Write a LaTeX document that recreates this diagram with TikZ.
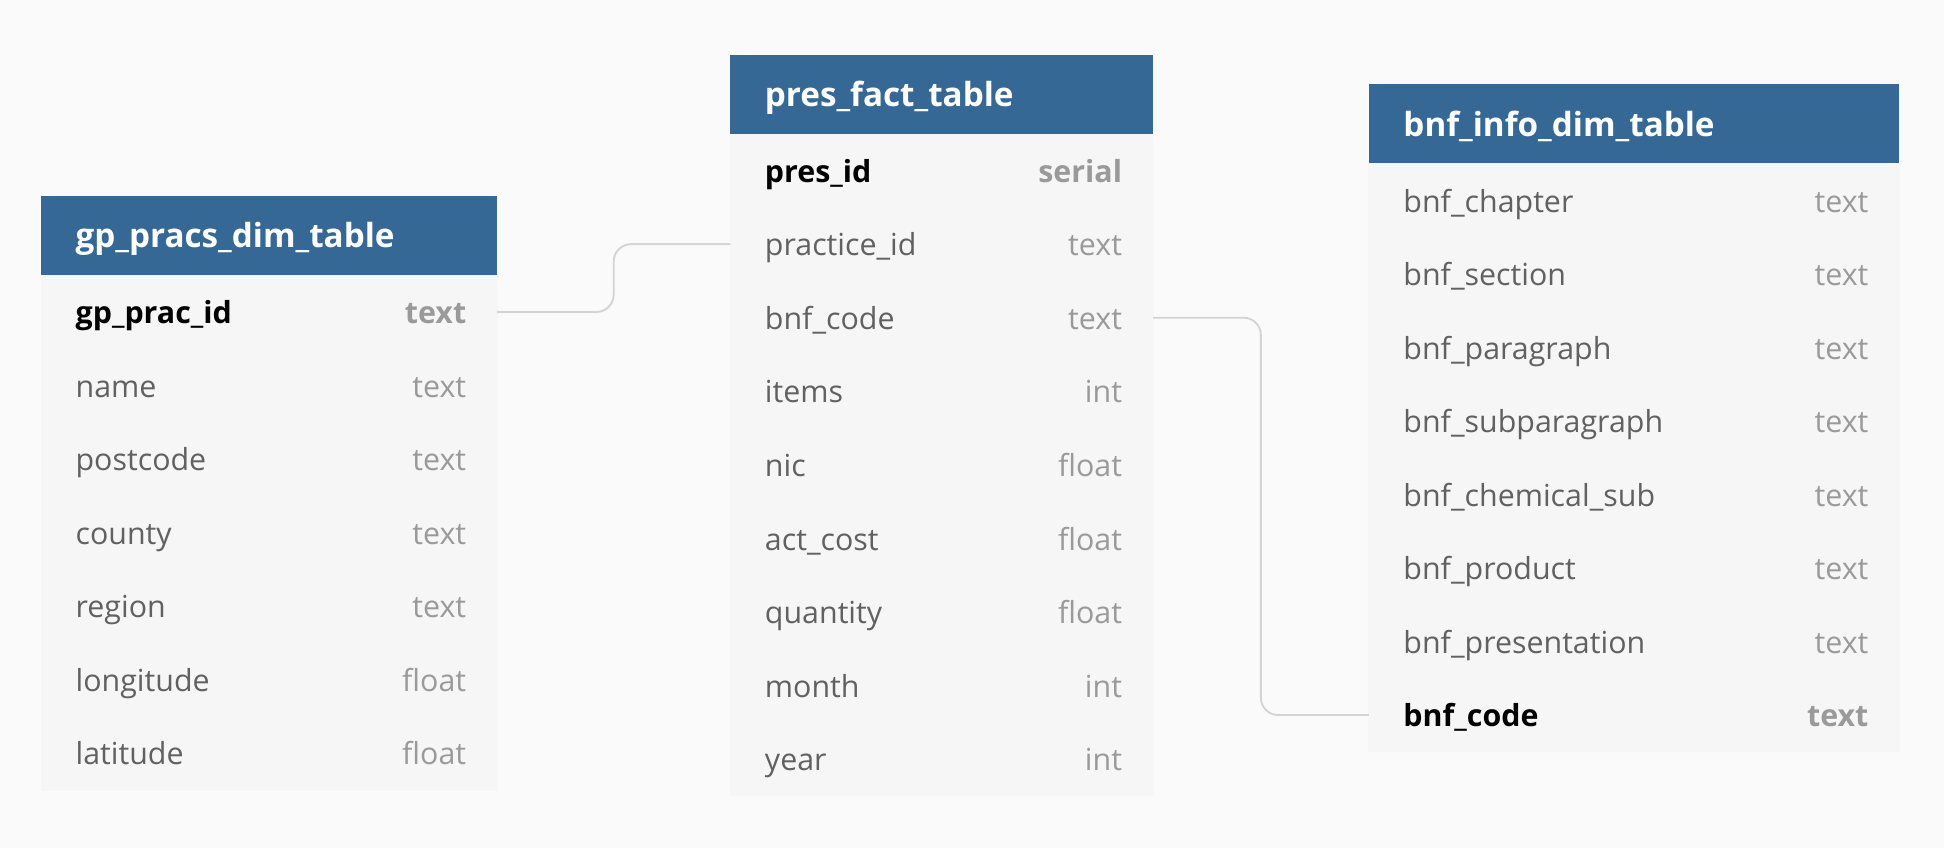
\documentclass[tikz,border=0pt]{standalone}
\usepackage{fontspec}
\setmainfont{Open Sans}
\usetikzlibrary{positioning,calc}
\definecolor{page-bg}{HTML}{FAFAFA}
\definecolor{row-bg}{HTML}{F6F6F6}
\definecolor{head-blue}{HTML}{356895}
\definecolor{name-gray}{HTML}{616161}
\definecolor{type-gray}{HTML}{9A9A9A}
\definecolor{link-gray}{HTML}{D3D3D3}

\tikzset{
	tablehead/.style={fill=head-blue, text=white, anchor=north west, inner xsep=28pt, inner ysep=0pt,
		minimum height=64pt, text height=22pt, text depth=2pt, outer sep=0pt,
		font=\fontsize{26.8}{30}\selectfont\bfseries, align=left},
	tablerow/.style={fill=row-bg, draw=row-bg, line width=0.6pt, inner xsep=26.5pt, inner ysep=0pt,
		minimum height=59.3pt, text height=19pt, text depth=0pt, outer sep=0pt,
		font=\fontsize{24.5}{28}\selectfont, align=left},
	link/.style={draw=link-gray, line width=1.5pt, rounded corners=14pt}
}

% one table: prefix, x, y, width, title, rows name/type/key
\newcommand{\dbtable}[6]{
	\node[tablehead, text width=#4pt-56pt] (#10) at (#2, #3) {#5};
	\foreach \fname/\ftype/\fkey [count=\i] in {#6} {
		\pgfmathtruncatemacro{\prev}{\i-1}
		\ifnum\fkey=1
			\node[tablerow, text width=#4pt-53pt, below=0pt of #1\prev] (#1\i)
				{\hspace*{1.5pt}\textbf{\textcolor{black}{\fname}}\hfill\textbf{\textcolor{type-gray}{\ftype}}\kern-1.5pt};
		\else
			\node[tablerow, text width=#4pt-53pt, below=0pt of #1\prev] (#1\i)
				{\hspace*{1.5pt}\textcolor{name-gray}{\fname}\hfill\textcolor{type-gray}{\ftype}\kern-1.5pt};
		\fi
	}
}

\begin{document}
\begin{tikzpicture}[x=1pt, y=-1pt]
	% page
	\fill[page-bg] (0, 0) rectangle (1568, 684);
	\useasboundingbox (0, 0) rectangle (1568, 684);

	% gp practices
	\dbtable{gp}{33}{158}{368}{gp\_pracs\_dim\_table}{gp\_prac\_id/text/1, name/text/0, postcode/text/0,
		county/text/0, region/text/0, longitude/float/0, latitude/float/0}

	% prescriptions
	\dbtable{pf}{589}{44}{341}{pres\_fact\_table}{pres\_id/serial/1, practice\_id/text/0, bnf\_code/text/0,
		items/int/0, nic/float/0, act\_cost/float/0, quantity/float/0, month/int/0, year/int/0}

	% bnf info
	\dbtable{bnf}{1104}{68}{428}{bnf\_info\_dim\_table}{bnf\_chapter/text/0, bnf\_section/text/0,
		bnf\_paragraph/text/0, bnf\_subparagraph/text/0, bnf\_chemical\_sub/text/0,
		bnf\_product/text/0, bnf\_presentation/text/0, bnf\_code/text/1}

	% links
	\draw[link] (gp1.east) -| ($(gp1.east)!0.5!(pf2.west)$) |- (pf2.west);
	\draw[link] (pf3.east) -| ($(pf3.east)!0.5!(bnf8.west)$) |- (bnf8.west);
\end{tikzpicture}
\end{document}
